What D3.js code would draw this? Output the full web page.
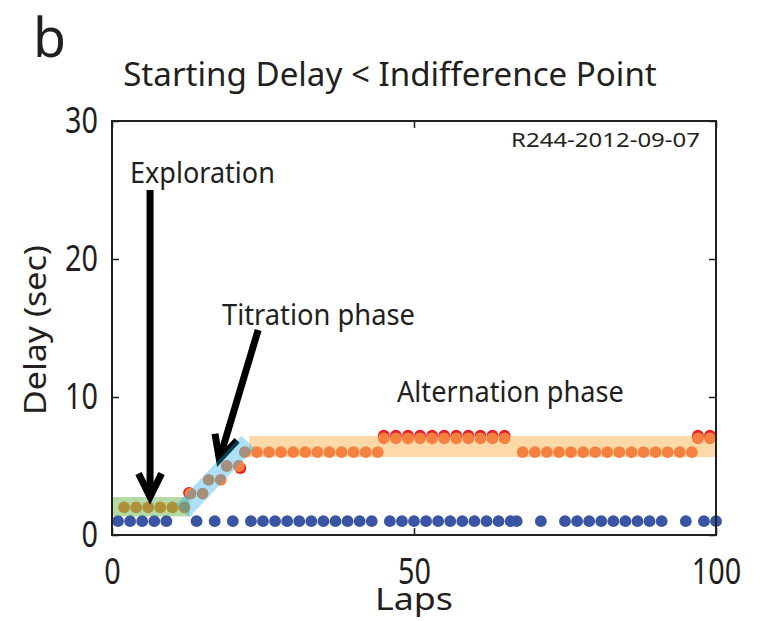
<!DOCTYPE html>
<html>
<head>
<meta charset="utf-8">
<script src="https://cdn.jsdelivr.net/npm/d3@7"></script>
<style>
  body { margin: 0; background: #fff; }
  text { font-family: 'Noto Sans', sans-serif; fill: #231f20; }
</style>
</head>
<body>
<div id="chart"></div>
<script>
// values (lap number, delay in sec)
const blueLaps = [1, 3, 5, 7, 9, 14, 17, 20, 23, 25, 27, 29, 31, 33, 35, 37, 39, 41, 43, 46, 48, 50,
  52, 54, 56, 58, 60, 62, 64, 66, 67, 71, 75, 77, 79, 81, 83, 85, 87, 89, 91, 95, 98, 100];
const blueDelay = 1;

const orangeLaps = [2, 4, 6, 8, 10, 12,
  13, 15, 16, 18, 19, 21, 22,
  24, 26, 28, 30, 32, 34, 36, 38, 40, 42, 44,
  45, 47, 49, 51, 53, 55, 57, 59, 61, 63, 65,
  68, 70, 72, 74, 76, 78, 80, 82, 84, 86, 88, 90, 92, 94, 96,
  97, 99];
const orangeDelays = [2, 2, 2, 2, 2, 2,
  3, 3, 4, 4, 5, 5, 6,
  6, 6, 6, 6, 6, 6, 6, 6, 6, 6, 6,
  7, 7, 7, 7, 7, 7, 7, 7, 7, 7, 7,
  6, 6, 6, 6, 6, 6, 6, 6, 6, 6, 6, 6, 6, 6, 6,
  7, 7];

const redLaps = [12.75, 21.25, 45, 47, 49, 51, 53, 55, 57, 59, 61, 63, 65, 97, 99];
const redDelays = [3.05, 4.85, 7.2, 7.2, 7.2, 7.2, 7.2, 7.2, 7.2, 7.2, 7.2, 7.2, 7.2, 7.2, 7.2];

// phase bands: [lap0, lap1, delay0, delay1]
const explorationBand = [0, 12.8, 1.35, 2.75];
const alternationBand = [22.7, 100, 5.65, 7.17];
// titration band centre line: [lap0, delay0, lap1, delay1]
const titrationBand = [11.75, 1.74, 22.5, 6.74];

// arrows: [lapFrom, delayFrom, lapTo, delayTo]
const explorationArrow = [6.3, 25.0, 6.3, 2.2];
const titrationArrow = [24.2, 14.86, 17.4, 4.93];

const xTicks = [0, 50, 100];
const yTicks = [0, 10, 20, 30];

const width = 761, height = 621;
const x = d3.scaleLinear().domain([0, 100]).range([112, 716]);
const y = d3.scaleLinear().domain([0, 30]).range([535, 121]);

const svg = d3.select('#chart').append('svg')
  .attr('width', width)
  .attr('height', height);

// squeeze text horizontally to the given width (the original font is narrow)
function squeeze(sel, w, pre) {
  const sx = w / sel.node().getComputedTextLength();
  const tx = +sel.attr('x') || 0, ty = +sel.attr('y') || 0;
  sel.attr('x', 0).attr('y', 0)
    .attr('transform', `translate(${tx},${ty}) ${pre || ''} scale(${sx},1)`);
  return sel;
}

function drawArrow(g, a, color) {
  const x0 = x(a[0]), y0 = y(a[1]), x1 = x(a[2]), y1 = y(a[3]);
  const ang = Math.atan2(y1 - y0, x1 - x0);
  const sw = 7, barb = 26, spread = 0.46;
  // pull the mitred tip back so its point lands on the target
  const back = (sw / 2) / Math.sin(spread);
  const tx = x1 - back * Math.cos(ang), ty = y1 - back * Math.sin(ang);
  g.append('line')
    .attr('x1', x0).attr('y1', y0)
    .attr('x2', tx).attr('y2', ty)
    .attr('stroke', color).attr('stroke-width', sw);
  const pts = [-1, 1].map(s => [
    tx + barb * Math.cos(ang + Math.PI + s * spread),
    ty + barb * Math.sin(ang + Math.PI + s * spread)
  ]);
  g.append('path')
    .attr('d', `M${pts[0][0]},${pts[0][1]}L${tx},${ty}L${pts[1][0]},${pts[1][1]}`)
    .attr('fill', 'none')
    .attr('stroke', color).attr('stroke-width', sw)
    .attr('stroke-linejoin', 'miter').attr('stroke-miterlimit', 10);
}

// alternation band sits behind the dots
svg.append('rect')
  .attr('x', x(alternationBand[0]))
  .attr('y', y(alternationBand[3]))
  .attr('width', x(alternationBand[1]) - x(alternationBand[0]))
  .attr('height', y(alternationBand[2]) - y(alternationBand[3]))
  .attr('fill', '#fed9a8');

const r = 5.9;
svg.append('g').selectAll('circle')
  .data(redLaps)
  .enter().append('circle')
  .attr('cx', d => x(d))
  .attr('cy', (d, i) => y(redDelays[i]))
  .attr('r', r)
  .attr('fill', '#ec1c24');

svg.append('g').selectAll('circle')
  .data(blueLaps)
  .enter().append('circle')
  .attr('cx', d => x(d))
  .attr('cy', y(blueDelay))
  .attr('r', r)
  .attr('fill', '#3a55a4');

svg.append('g').selectAll('circle')
  .data(orangeLaps)
  .enter().append('circle')
  .attr('cx', d => x(d))
  .attr('cy', (d, i) => y(orangeDelays[i]))
  .attr('r', r)
  .attr('fill', '#f58140');

drawArrow(svg.append('g'), titrationArrow, '#000');

// translucent bands over the dots
svg.append('rect')
  .attr('x', x(explorationBand[0]))
  .attr('y', y(explorationBand[3]))
  .attr('width', x(explorationBand[1]) - x(explorationBand[0]))
  .attr('height', y(explorationBand[2]) - y(explorationBand[3]))
  .attr('fill', '#4aa52a')
  .attr('fill-opacity', 0.42);

svg.append('line')
  .attr('x1', x(titrationBand[0])).attr('y1', y(titrationBand[1]))
  .attr('x2', x(titrationBand[2])).attr('y2', y(titrationBand[3]))
  .attr('stroke', '#1aa8ea')
  .attr('stroke-opacity', 0.36)
  .attr('stroke-width', 18);

drawArrow(svg.append('g'), explorationArrow, '#000');

// axes with inward ticks
svg.append('g')
  .attr('transform', `translate(${x(0)},0)`)
  .call(d3.axisLeft(y).tickValues(yTicks).tickSizeInner(-7).tickSizeOuter(0).tickPadding(14))
  .call(g => g.select('.domain').remove());
svg.append('g')
  .attr('transform', `translate(${x(100)},0)`)
  .call(d3.axisRight(y).tickValues(yTicks).tickSizeInner(-7).tickSizeOuter(0).tickFormat(''))
  .call(g => g.select('.domain').remove());
svg.append('g')
  .attr('transform', `translate(0,${y(0)})`)
  .call(d3.axisBottom(x).tickValues(xTicks).tickSizeInner(-7).tickSizeOuter(0).tickPadding(23))
  .call(g => g.select('.domain').remove());
svg.append('g')
  .attr('transform', `translate(0,${y(30)})`)
  .call(d3.axisTop(x).tickValues(xTicks).tickSizeInner(-7).tickSizeOuter(0).tickFormat(''))
  .call(g => g.select('.domain').remove());

svg.selectAll('.tick line').attr('stroke', '#231f20').attr('stroke-width', 1.5);
svg.selectAll('.tick text')
  .attr('font-family', null)
  .attr('font-size', 36)
  .style('fill', '#231f20')
  .each(function () {
    const t = d3.select(this);
    squeeze(t, t.node().getComputedTextLength() * 0.8);
  });

svg.append('rect')
  .attr('x', x(0)).attr('y', y(30))
  .attr('width', x(100) - x(0))
  .attr('height', y(0) - y(30))
  .attr('fill', 'none')
  .attr('stroke', '#231f20')
  .attr('stroke-width', 2);

// texts
squeeze(svg.append('text').attr('x', 33).attr('y', 57).attr('font-size', 54).text('b'), 33);

squeeze(svg.append('text')
  .attr('x', 390).attr('y', 86)
  .attr('text-anchor', 'middle')
  .attr('font-size', 32)
  .text('Starting Delay < Indifference Point'), 534);

squeeze(svg.append('text')
  .attr('x', 700).attr('y', 147)
  .attr('text-anchor', 'end')
  .attr('font-size', 20)
  .text('R244-2012-09-07'), 189);

squeeze(svg.append('text')
  .attr('x', 130).attr('y', 183)
  .attr('font-size', 29)
  .text('Exploration'), 145);

squeeze(svg.append('text')
  .attr('x', 222).attr('y', 325)
  .attr('font-size', 29)
  .text('Titration phase'), 193);

squeeze(svg.append('text')
  .attr('x', 397).attr('y', 402)
  .attr('font-size', 29)
  .text('Alternation phase'), 227);

squeeze(svg.append('text')
  .attr('x', 414).attr('y', 610)
  .attr('text-anchor', 'middle')
  .attr('font-size', 31)
  .text('Laps'), 78);

squeeze(svg.append('text')
  .attr('x', 46).attr('y', 330)
  .attr('text-anchor', 'middle')
  .attr('font-size', 31)
  .text('Delay (sec)'), 170, 'rotate(-90)');
</script>
</body>
</html>
